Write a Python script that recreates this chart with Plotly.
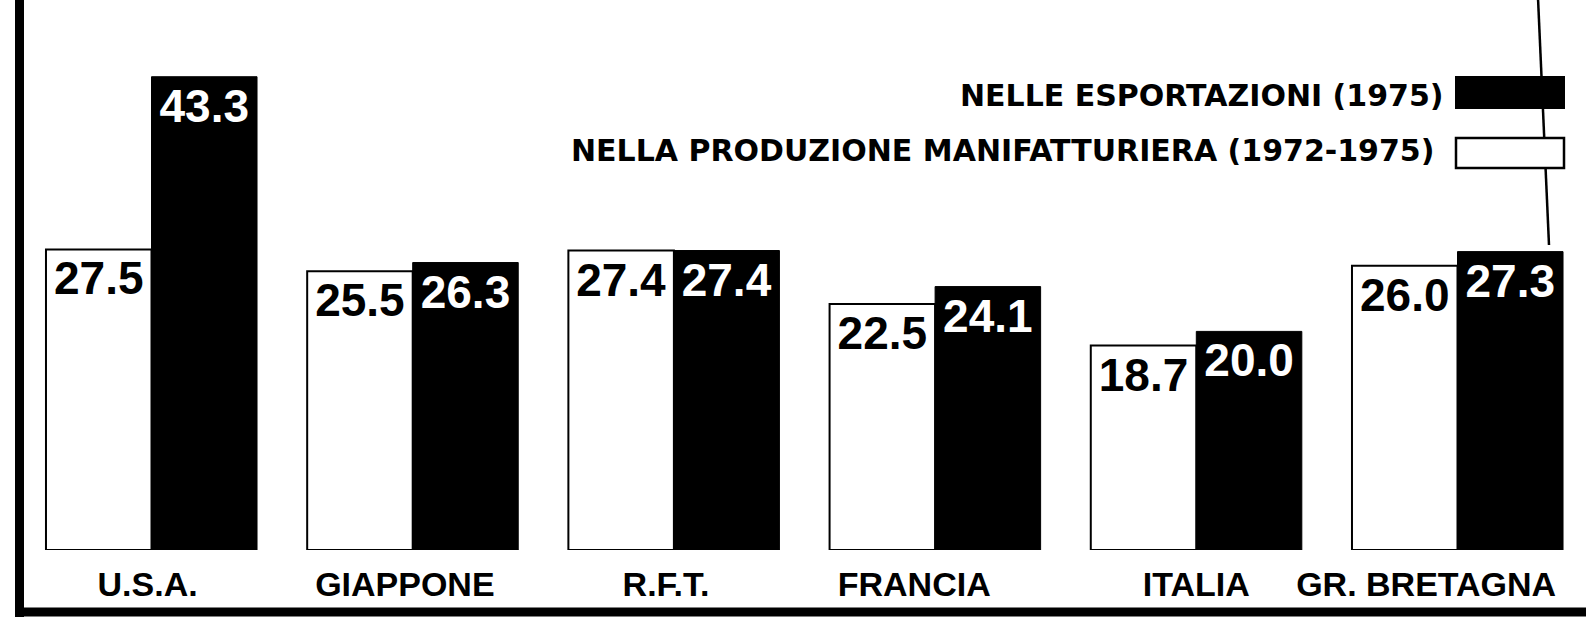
import plotly.graph_objects as go

# ---- data ----
categories = ["U.S.A.", "GIAPPONE", "R.F.T.", "FRANCIA", "ITALIA", "GR. BRETAGNA"]
produzione = [27.5, 25.5, 27.4, 22.5, 18.7, 26.0]      # NELLA PRODUZIONE MANIFATTURIERA (1972-1975)
esportazioni = [43.3, 26.3, 27.4, 24.1, 20.0, 27.3]    # NELLE ESPORTAZIONI (1975)
name_exp = "NELLE ESPORTAZIONI (1975)"
name_prod = "NELLA PRODUZIONE MANIFATTURIERA (1972-1975)"

# ---- style / layout ----
W, H = 1586, 629
MB = 79                      # bottom margin (plot area: 0..550 px)
PLOT_H = H - MB
PX_PER_UNIT = 10.93
BAR_W = 0.404
label_shift = [-0.015, -0.03, -0.03, -0.08, 0.0, -0.12]

idx = list(range(len(categories)))

def px_x(p):
    return p / W

def px_y(p):
    return (PLOT_H - p) / PLOT_H

num_font = dict(family="Liberation Sans", size=46, weight="bold")

fig = go.Figure()
fig.add_trace(go.Bar(
    x=idx, y=produzione, name=name_prod,
    offset=-BAR_W, width=BAR_W,
    marker=dict(color="white", line=dict(color="black", width=2)),
    texttemplate="%{y:.1f}", textposition="inside", insidetextanchor="end",
    textangle=0, textfont=dict(color="black", **num_font),
    constraintext="none", showlegend=False,
))
fig.add_trace(go.Bar(
    x=idx, y=esportazioni, name=name_exp,
    offset=0, width=BAR_W,
    marker=dict(color="black", line=dict(color="black", width=1)),
    texttemplate="%{y:.1f}", textposition="inside", insidetextanchor="end",
    textangle=0, textfont=dict(color="white", **num_font),
    constraintext="none", showlegend=False,
))

x0 = -151.5 / 261.2
x1 = (W - 151.5) / 261.2

shapes = [
    # left frame
    dict(type="line", xref="paper", yref="paper", x0=px_x(19.5), x1=px_x(19.5),
         y0=px_y(-5), y1=px_y(617), line=dict(color="black", width=9)),
    # bottom frame
    dict(type="line", xref="paper", yref="paper", x0=px_x(15), x1=px_x(W + 5),
         y0=px_y(612), y1=px_y(612), line=dict(color="black", width=9)),
    # right edge stroke (top right)
    dict(type="line", xref="paper", yref="paper", x0=px_x(1538), x1=px_x(1549),
         y0=px_y(-2), y1=px_y(245), line=dict(color="black", width=2.5)),
    # legend swatches
    dict(type="rect", xref="paper", yref="paper", x0=px_x(1456), x1=px_x(1564),
         y0=px_y(108), y1=px_y(77), fillcolor="black", line=dict(color="black", width=2)),
    dict(type="rect", xref="paper", yref="paper", x0=px_x(1456), x1=px_x(1564),
         y0=px_y(168), y1=px_y(138), fillcolor="white", line=dict(color="black", width=2.5)),
]

leg_font = dict(family="DejaVu Sans", size=30, weight="bold", color="black")
annotations = [
    dict(text=name_exp, xref="paper", yref="paper", x=px_x(1446), y=px_y(95),
         xanchor="right", yanchor="middle", showarrow=False, font=leg_font),
    dict(text=name_prod, xref="paper", yref="paper", x=px_x(1436), y=px_y(150),
         xanchor="right", yanchor="middle", showarrow=False, font=leg_font),
]

fig.update_layout(
    width=W, height=H, autosize=False,
    margin=dict(l=0, r=0, t=0, b=MB, pad=0),
    paper_bgcolor="white", plot_bgcolor="white",
    barmode="overlay",
    shapes=shapes, annotations=annotations,
    xaxis=dict(range=[x0, x1], tickvals=[i + s for i, s in zip(idx, label_shift)],
               ticktext=categories, showgrid=False, zeroline=False, showline=False,
               ticks="", ticklabelstandoff=11,
               tickfont=dict(family="Liberation Sans", size=34, weight="bold", color="black"),
               fixedrange=True),
    yaxis=dict(range=[0, PLOT_H / PX_PER_UNIT], visible=False, fixedrange=True),
    font=dict(family="Liberation Sans", color="black"),
)

fig.write_html(
    "out.html",
    config={"displayModeBar": False},
    post_script="document.body.style.margin='0';document.body.style.overflow='hidden';",
)
